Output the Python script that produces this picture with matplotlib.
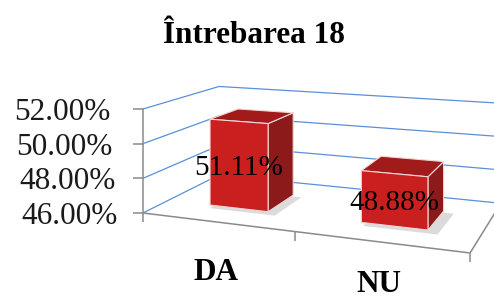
import matplotlib
matplotlib.use("Agg")
import matplotlib.pyplot as plt
from matplotlib.patches import Polygon

# ---- data ----
title = "Întrebarea 18"
categories = ["DA", "NU"]
values = [51.11, 48.88]
value_labels = ["51.11%", "48.88%"]
ticks = [46.0, 48.0, 50.0, 52.0]
tick_labels = ["46.00%", "48.00%", "50.00%", "52.00%"]

# ---- layout / perspective camera (figure pixel space) ----
FIG_W, FIG_H = 494, 300
VMIN, VMAX = ticks[0], ticks[-1]
U0, V0 = 143.0, 213.0      # front-left floor corner
WALL_H = 104.0             # front-left wall height
HORIZON = -42.3            # eye level
CX, CD = -0.0677, 0.175    # depth change per category unit / per depth unit
AX, AD = 131.7, 114.3
NCAT = len(categories)
BAR_W = 0.4
D0, D1 = 0.3, 0.7

SERIF = ["Liberation Serif", "DejaVu Serif"]
GRID_C = "#5b8fd9"
AXIS_C = "#8a8a8a"
FRONT_C = "#c91f1f"
TOP_C = "#a11b1b"
SIDE_C = "#8c1a1a"
EDGE_C = "#f2d6d6"


def proj(x, d, val):
    z = (val - VMIN) / (VMAX - VMIN)
    w = 1 + CX * x + CD * d
    u = (U0 + AX * x + AD * d) / w
    v = HORIZON + (V0 - HORIZON - WALL_H * z) / w
    return u, v


fig = plt.figure(figsize=(FIG_W / 100, FIG_H / 100), dpi=100)
ax = fig.add_axes([0, 0, 1, 1])
ax.set_xlim(0, FIG_W)
ax.set_ylim(FIG_H, 0)
ax.axis("off")


def line(p, q, **kw):
    ax.plot([p[0], q[0]], [p[1], q[1]], solid_capstyle="butt", **kw)


# walls gridlines
for t in ticks:
    line(proj(0, 0, t), proj(0, 1, t), color=GRID_C, lw=0.9, zorder=1)
    line(proj(0, 1, t), proj(NCAT, 1, t), color=GRID_C, lw=0.9, zorder=1)

# floor edges / axes
line(proj(0, 0, VMIN), proj(NCAT, 0, VMIN), color=AXIS_C, lw=1.1, zorder=2)
line(proj(NCAT, 0, VMIN), proj(NCAT, 1, VMIN), color=AXIS_C, lw=1.1, zorder=2)
line(proj(0, 0, VMIN), proj(0, 0, VMAX), color=AXIS_C, lw=1.1, zorder=2)

# value ticks and labels
for t, lab in zip(ticks, tick_labels):
    u, v = proj(0, 0, t)
    line((u - 10, v), (u + 1, v), color=AXIS_C, lw=1.1, zorder=2)
    z = (t - VMIN) / (VMAX - VMIN)
    ax.text(u - 25 - 8 * z, v, lab, ha="right", va="center_baseline",
            fontsize=22.5, family=SERIF, color="#1a1a1a")

# category ticks
for i in range(NCAT + 1):
    u, v = proj(i, 0, VMIN)
    line((u, v), (u, v + 9), color=AXIS_C, lw=1.1, zorder=2)

# bars
for i, (val, lab) in enumerate(zip(values, value_labels)):
    x0 = i + 0.5 - BAR_W / 2
    x1 = i + 0.5 + BAR_W / 2
    b = VMIN
    # shadow
    sh = [proj(x0 + 0.03, D0 - 0.06, b), proj(x1 + 0.07, D0 - 0.06, b),
          proj(x1 + 0.07, D1 - 0.03, b), proj(x0 + 0.03, D1 - 0.03, b)]
    ax.add_patch(Polygon(sh, closed=True, facecolor="#9a9a9a", alpha=0.35,
                         edgecolor="none", zorder=3))
    front = [proj(x0, D0, b), proj(x1, D0, b), proj(x1, D0, val), proj(x0, D0, val)]
    side = [proj(x1, D0, b), proj(x1, D1, b), proj(x1, D1, val), proj(x1, D0, val)]
    top = [proj(x0, D0, val), proj(x1, D0, val), proj(x1, D1, val), proj(x0, D1, val)]
    for poly, col in ((side, SIDE_C), (top, TOP_C), (front, FRONT_C)):
        ax.add_patch(Polygon(poly, closed=True, facecolor=col, edgecolor=EDGE_C,
                             lw=0.8, joinstyle="round", zorder=4))
    # data label at front-face centre
    u, v = proj(i + 0.5, D0, (b + val) / 2)
    ax.text(u, v, lab, ha="center", va="center_baseline", fontsize=21,
            family=SERIF, color="black", zorder=6)
    # category label (kept inside the bottom edge)
    cu, cv = proj(i + 0.5, 0, VMIN)
    txt = ax.text(cu, cv + 47, categories[i], ha="center",
                  va="center_baseline", fontsize=22.5, fontweight="bold",
                  family=SERIF, color="black")
    if cv + 47 > FIG_H - 20:
        txt.set_y(FIG_H - 1)
        txt.set_va("bottom")

ax.text(253.5, 43, title, ha="center", va="baseline", fontsize=22.5,
        fontweight="bold", family=SERIF, color="black")

fig.savefig("out.png", dpi=100)
